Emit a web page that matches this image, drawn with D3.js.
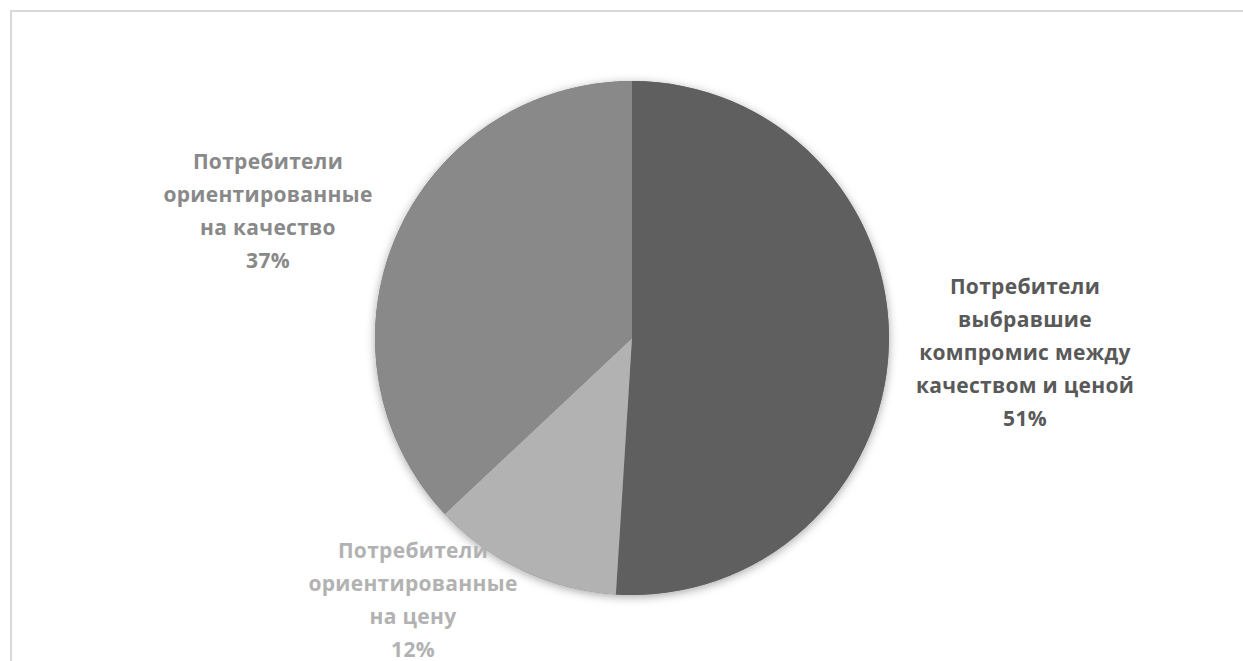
<!DOCTYPE html>
<html><head><meta charset="utf-8">
<script src="https://cdn.jsdelivr.net/npm/d3@7"></script>
<style>html,body{margin:0;padding:0;background:#fff;overflow:hidden}</style>
</head><body>
<svg id="c" width="1243" height="661"></svg>
<script>
const categories = [
  ["Потребители", "выбравшие", "компромис между", "качеством и ценой"],
  ["Потребители", "ориентированные", "на цену"],
  ["Потребители", "ориентированные", "на качество"]
];
const values = [51, 12, 37];
const percentLabels = ["51%", "12%", "37%"];
const colors = ["#5f5f5f", "#b2b2b2", "#898989"];
const labelColors = ["#595959", "#b2b2b2", "#898989"];
const labelPos = [[1025, 287], [413, 551], [268, 162]];

const svg = d3.select("#c");
const defs = svg.append("defs");
const f = defs.append("filter").attr("id","sh").attr("x","-20%").attr("y","-20%").attr("width","140%").attr("height","140%");
f.append("feDropShadow").attr("dx",0).attr("dy",2).attr("stdDeviation",5).attr("flood-color","#000").attr("flood-opacity",0.35);

svg.append("rect").attr("x",11).attr("y",11).attr("width",1300).attr("height",700)
  .attr("fill","none").attr("stroke","#d9d9d9").attr("stroke-width",2);

const cx = 632, cy = 338, r = 257;
const pie = d3.pie().sort(null).value(d => d);
const arc = d3.arc().innerRadius(0).outerRadius(r);
const g = svg.append("g").attr("transform",`translate(${cx},${cy})`);
g.append("circle").attr("r", r).attr("fill","#777").attr("filter","url(#sh)");
g.selectAll("path").data(pie(values)).join("path")
  .attr("d", arc).attr("fill",(d,i)=>colors[i]).attr("stroke","none");

categories.forEach((lines,i)=>{
  const t = svg.append("text").attr("text-anchor","middle")
    .attr("font-family","'Open Sans', sans-serif").attr("font-weight","bold")
    .attr("font-size",21).attr("letter-spacing","0.3px").attr("fill",labelColors[i]);
  lines.concat([percentLabels[i]]).forEach((s,j)=>{
    t.append("tspan").attr("x",labelPos[i][0]).attr("y",labelPos[i][1]+j*33)
      .attr("dy","0.35em").text(s);
  });
});
</script>
</body></html>
